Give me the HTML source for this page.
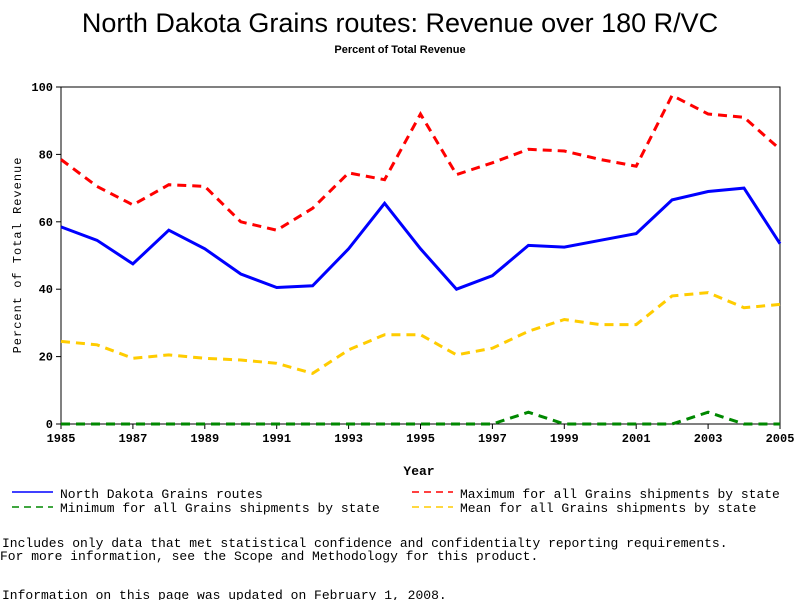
<!DOCTYPE html>
<html><head><meta charset="utf-8"><style>
body{margin:0;background:#fff;}
svg{display:block;font-family:"Liberation Mono",monospace;}
</style></head><body>
<svg width="800" height="600">
<text x="400" y="32" text-anchor="middle" font-family="Liberation Sans, sans-serif" font-size="27">North Dakota Grains routes: Revenue over 180 R/VC</text>
<text x="400" y="53" text-anchor="middle" font-family="Liberation Sans, sans-serif" font-size="11" font-weight="bold">Percent of Total Revenue</text>
<rect x="61" y="87" width="719" height="337" fill="none" stroke="#000"/>
<g id="axes"></g>
<g id="series"></g>
<text x="419" y="475" text-anchor="middle" font-size="13" font-weight="bold">Year</text>
<text transform="translate(21,255) rotate(-90)" text-anchor="middle" font-size="12" letter-spacing="1">Percent of Total Revenue</text>
<g font-size="13">
<g><line x1="12" y1="492" x2="53" y2="492" stroke="#00f" stroke-width="1.5"/><text x="60" y="498">North Dakota Grains routes</text></g>
<g><line x1="12" y1="507" x2="53" y2="507" stroke="#080" stroke-dasharray="7,5" stroke-width="1.5"/><text x="60" y="512">Minimum for all Grains shipments by state</text></g>
<g><line x1="412" y1="492" x2="453" y2="492" stroke="#f00" stroke-dasharray="7,5" stroke-width="1.5"/><text x="460" y="498">Maximum for all Grains shipments by state</text></g>
<g><line x1="412" y1="507" x2="453" y2="507" stroke="#fc0" stroke-dasharray="7,5" stroke-width="1.5"/><text x="460" y="512">Mean for all Grains shipments by state</text></g>
</g>
<g font-size="13">
<text x="2" y="547">Includes only data that met statistical confidence and confidentialty reporting requirements.</text>
<text x="0" y="560">For more information, see the Scope and Methodology for this product.</text>
<text x="2" y="599">Information on this page was updated on February 1, 2008.</text>
</g>
</svg>
<script>
const years=[1985,1986,1987,1988,1989,1990,1991,1992,1993,1994,1995,1996,1997,1998,1999,2000,2001,2002,2003,2004,2005];
const ndValues=[58.5,54.5,47.5,57.5,52,44.5,40.5,41,52,65.5,52,40,44,53,52.5,54.5,56.5,66.5,69,70,53.5];
const maxValues=[78.5,70.5,65,71,70.5,60,57.5,64,74.5,72.5,92,74,77.5,81.5,81,78.5,76.5,97.5,92,91,81.5];
const meanValues=[24.5,23.5,19.5,20.5,19.5,19,18,15,22,26.5,26.5,20.5,22.5,27.5,31,29.5,29.5,38,39,34.5,35.5];
const minValues=[0,0,0,0,0,0,0,0,0,0,0,0,0,3.5,0,0,0,0,3.5,0,0];
const xTicks=[1985,1987,1989,1991,1993,1995,1997,1999,2001,2003,2005];
const yTicks=[0,20,40,60,80,100];
const NS="http://www.w3.org/2000/svg";
const X0=61,X1=780,Y0=424,Y1=87;
function xs(v){return X0+(v-1985)/(2005-1985)*(X1-X0);}
function ys(v){return Y0-v/100*(Y0-Y1);}
const axes=document.getElementById('axes');
function mk(t,a,p){const e=document.createElementNS(NS,t);for(const k in a)e.setAttribute(k,a[k]);p.appendChild(e);return e;}
xTicks.forEach(t=>{
 const l=mk('line',{x1:xs(t),x2:xs(t),y1:Y0,y2:Y0+5,stroke:'#000'},axes);
 
 
 const tx=mk('text',{x:xs(t),y:Y0+18,'text-anchor':'middle','font-size':'12','font-weight':'bold'},axes);tx.textContent=t;
 
 
});
yTicks.forEach(t=>{
 const l=mk('line',{x1:X0-5,x2:X0,y1:ys(t),y2:ys(t),stroke:'#000'},axes);
 
 
 const tx=mk('text',{x:X0-8,y:ys(t)+4,'text-anchor':'end','font-size':'12','font-weight':'bold'},axes);tx.textContent=t;
 
 
});
const sg=document.getElementById('series');
function line(vals,color,dash,w,name){
 const d=vals.map((v,i)=>(i?'L':'M')+xs(years[i]).toFixed(1)+','+ys(v).toFixed(1)).join('');
 const p=mk('path',{d:d,fill:'none',stroke:color,'stroke-width':w},sg);
 if(dash)p.setAttribute('stroke-dasharray',dash);
 
 
}
line(minValues,'#080','9,6',3,'min-line');
line(meanValues,'#fc0','9,6',3,'mean-line');
line(maxValues,'#f00','9,6',3,'max-line');
line(ndValues,'#00f',null,3,'nd-line');
</script>
</body></html>
